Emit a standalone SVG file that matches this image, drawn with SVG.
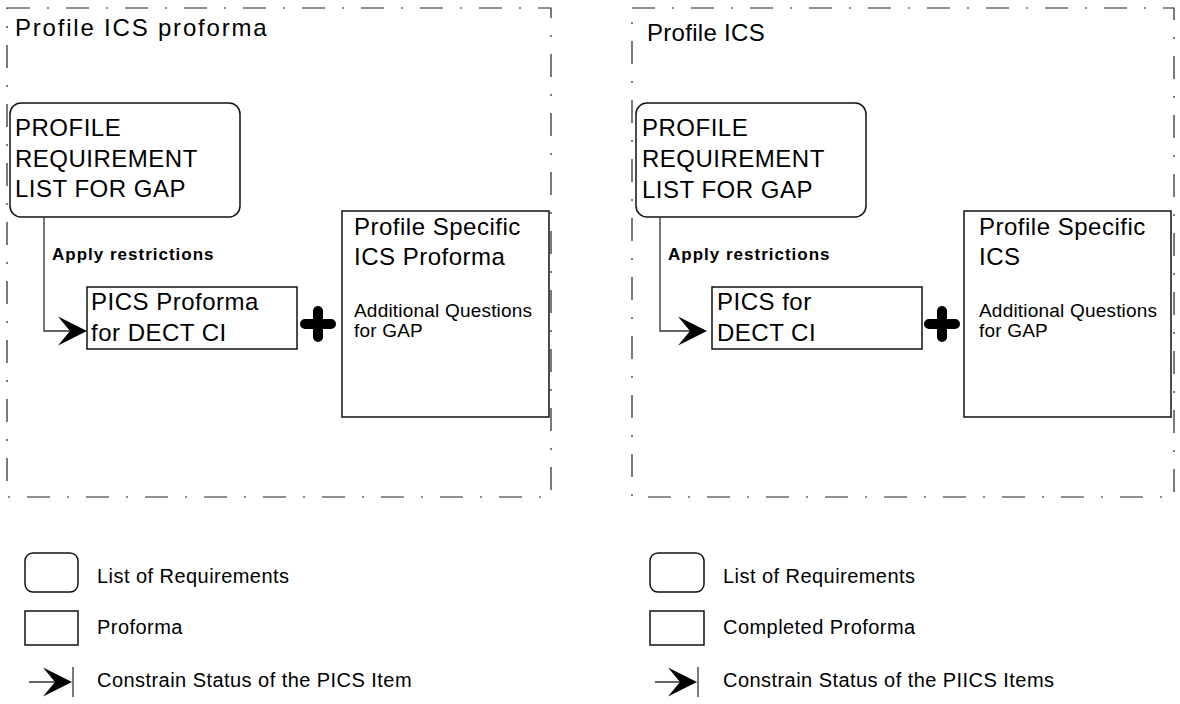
<svg xmlns="http://www.w3.org/2000/svg" xmlns:xlink="http://www.w3.org/1999/xlink" width="1180" height="704" viewBox="0 0 1180 704">
<style>
.frame{fill:none;stroke:#222;stroke-width:1.2;stroke-dasharray:23 17 2 17}
.box{fill:#fff;stroke:#111;stroke-width:1.5}
.conn{fill:none;stroke:#333;stroke-width:1.3}
.big{font-family:"Liberation Sans",Arial,sans-serif;font-size:24px;letter-spacing:0.5px;fill:#000}
.mid{font-family:"Liberation Sans",Arial,sans-serif;font-size:19px;letter-spacing:0.2px;fill:#000}
.bold{font-family:"Liberation Sans",Arial,sans-serif;font-size:17px;font-weight:bold;letter-spacing:1px;fill:#000}
.leg{font-family:"Liberation Sans",Arial,sans-serif;font-size:20px;letter-spacing:0.45px;fill:#000}
.plus{fill:none;stroke:#000;stroke-width:10;stroke-linecap:round}
.head{fill:#000}
</style>
<defs>
<path id="arr" class="head" d="M0,0 L-29,-14.5 L-17,0 L-29,14.5 Z"/>
<path id="plus" class="plus" d="M-13,0 H13 M0,-13 V13"/>
</defs>

<g id="left-panel">
<path class="frame" d="M7,8 H551 V497 H7 Z"/>
<text class="big" x="15" y="36" style="letter-spacing:1.8px">Profile ICS proforma</text>
</g>
<g id="left-prl">
<rect class="box" x="10" y="103" width="230" height="114" rx="11"/>
<text class="big" x="15" y="136">PROFILE</text>
<text class="big" x="15" y="167">REQUIREMENT</text>
<text class="big" x="15" y="197">LIST FOR GAP</text>
</g>
<g id="left-pics">
<rect class="box" x="87" y="287" width="210" height="62"/>
<text class="big" x="91" y="310">PICS Proforma</text>
<text class="big" x="91" y="341">for DECT CI</text>
</g>
<g id="left-plus"><use xlink:href="#plus" x="318" y="324"/></g>
<g id="left-specific">
<rect class="box" x="342" y="211" width="207" height="206"/>
<text class="big" x="354" y="235">Profile Specific</text>
<text class="big" x="354" y="265">ICS Proforma</text>
<text class="mid" x="354" y="317">Additional Questions</text>
<text class="mid" x="354" y="337">for GAP</text>
</g>

<g id="right-panel">
<path class="frame" d="M632,8 H1174 V497 H632 Z"/>
<text class="big" x="647" y="41" style="letter-spacing:0.3px">Profile ICS</text>
</g>
<g id="right-prl">
<rect class="box" x="636" y="103" width="230" height="114" rx="11"/>
<text class="big" x="642" y="136">PROFILE</text>
<text class="big" x="642" y="167">REQUIREMENT</text>
<text class="big" x="642" y="198">LIST FOR GAP</text>
</g>
<g id="right-pics">
<rect class="box" x="712" y="287" width="210" height="62"/>
<text class="big" x="717" y="310">PICS for</text>
<text class="big" x="717" y="341">DECT CI</text>
</g>
<g id="right-plus"><use xlink:href="#plus" x="942" y="324"/></g>
<g id="right-specific">
<rect class="box" x="964" y="211" width="207" height="206"/>
<text class="big" x="979" y="235">Profile Specific</text>
<text class="big" x="979" y="265">ICS</text>
<text class="mid" x="979" y="317">Additional Questions</text>
<text class="mid" x="979" y="337">for GAP</text>
</g>

<g id="connectors">
<path class="conn" d="M44,217 V331 H80"/>
<use xlink:href="#arr" x="87" y="331"/>
<text class="bold" x="52" y="260">Apply restrictions</text>
<path class="conn" d="M660,217 V331 H700"/>
<use xlink:href="#arr" x="707" y="331"/>
<text class="bold" x="668" y="260">Apply restrictions</text>
</g>

<g id="legend-left">
<rect class="box" x="25" y="553" width="53" height="39" rx="8"/>
<text class="leg" x="97" y="583">List of Requirements</text>
<rect class="box" x="25" y="611" width="53" height="34"/>
<text class="leg" x="97" y="634">Proforma</text>
<path class="conn" d="M29,682 H64 M73,667 V697"/>
<use xlink:href="#arr" x="72" y="682"/>
<text class="leg" x="97" y="687">Constrain Status of the PICS Item</text>
</g>
<g id="legend-right">
<rect class="box" x="650" y="553" width="54" height="39" rx="8"/>
<text class="leg" x="723" y="583">List of Requirements</text>
<rect class="box" x="650" y="611" width="54" height="34"/>
<text class="leg" x="723" y="634">Completed Proforma</text>
<path class="conn" d="M655,682 H689 M698,667 V697"/>
<use xlink:href="#arr" x="697" y="682"/>
<text class="leg" x="723" y="687">Constrain Status of the PIICS Items</text>
</g>
</svg>
